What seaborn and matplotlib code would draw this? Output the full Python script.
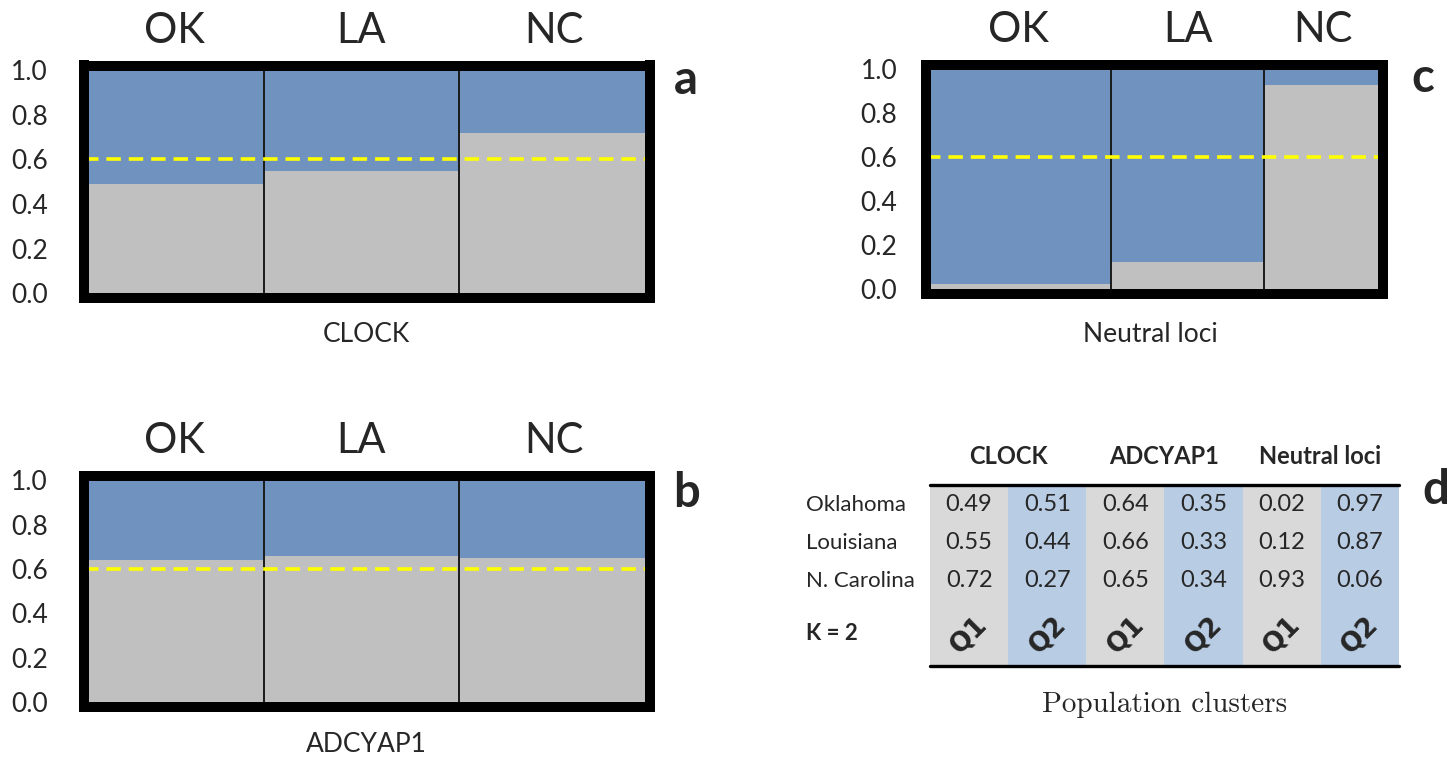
import matplotlib
matplotlib.use('Agg')
import matplotlib.pyplot as plt
from matplotlib.colors import ListedColormap
import numpy as np
import pandas as pd
import seaborn as sns

# data (membership coefficients, K = 2)
pops = ['OK', 'LA', 'NC']
states = ['Oklahoma', 'Louisiana', 'N. Carolina']
loci = ['CLOCK', 'ADCYAP1', 'Neutral loci']
clock_q1 = [0.49, 0.55, 0.72]
clock_q2 = [0.51, 0.44, 0.27]
adcyap1_q1 = [0.64, 0.66, 0.65]
adcyap1_q2 = [0.35, 0.33, 0.34]
neutral_q1 = [0.02, 0.12, 0.93]
neutral_q2 = [0.97, 0.87, 0.06]
cluster_labels = ['Q1', 'Q2']
threshold = 0.6
k = 2

# layout / style
W, H = 1455, 761
BAR_BLUE = '#7092BE'
BAR_GREY = '#C0C0C0'
TAB_GREY = '#D9D9D9'
TAB_BLUE = '#B8CCE4'
YELLOW = '#FFFF00'
ab_xlim = (-0.423, 2.48)                 # first bar partly hidden by the frame
neutral_edges = [0.0, 0.405, 0.74, 1.0]  # panel c bar widths (axes fraction)

sns.set_style('white')
plt.rcParams['font.family'] = ['Lato', 'DejaVu Sans']


def px(x, y):
    return x / W, 1 - y / H


def ax_at(fig, x0, y0, x1, y1):
    return fig.add_axes([x0 / W, 1 - y1 / H, (x1 - x0) / W, (y1 - y0) / H])


def frame(ax, pad):
    ax.set_ylim(-0.022, 1.022)
    ax.set_yticks([0, 0.2, 0.4, 0.6, 0.8, 1.0])
    ax.set_yticklabels([f'{v:.1f}' for v in [0, 0.2, 0.4, 0.6, 0.8, 1.0]])
    ax.tick_params(axis='y', length=0, pad=pad, labelsize=19)
    ax.set_xticks([])
    ax.set_xlabel('')
    ax.set_ylabel('')
    ax.axhline(threshold, color=YELLOW, lw=2.6, ls=(0, (4, 2.2)), zorder=5)
    for s in ax.spines.values():
        s.set_visible(True)
        s.set_color('black')
        s.set_linewidth(7.2)
        s.set_zorder(10)


def stacked_panel(ax, q1):
    df = pd.DataFrame({'pop': pops, 'q1': q1, 'total': 1.0})
    sns.barplot(data=df, x='pop', y='total', color=BAR_BLUE, width=1,
                saturation=1, errorbar=None, linewidth=0, ax=ax)
    sns.barplot(data=df, x='pop', y='q1', color=BAR_GREY, width=1,
                saturation=1, errorbar=None, linewidth=0, ax=ax)
    ax.set_xlim(*ab_xlim)
    for xv in [0.5, 1.5]:
        ax.axvline(xv, color='#1a1a1a', lw=1.4, zorder=4)
    for i, p in enumerate(pops):
        lo, hi = max(i - 0.5, ab_xlim[0]), min(i + 0.5, ab_xlim[1])
        ax.text((lo + hi) / 2, 1.15, p, transform=ax.get_xaxis_transform(),
                ha='center', va='center', fontsize=30)
    frame(ax, 26)


fig = plt.figure(figsize=(W / 100, H / 100), dpi=100)

# panel a
ax_a = ax_at(fig, 84, 65.5, 650, 298)
stacked_panel(ax_a, clock_q1)
fig.text(*px(366, 335), loci[0], ha='center', va='center', fontsize=19)
fig.text(*px(686, 80), 'a', ha='center', va='center', fontsize=34, fontweight='bold')

# panel b
ax_b = ax_at(fig, 84, 475.5, 650, 707)
stacked_panel(ax_b, adcyap1_q1)
fig.text(*px(366, 745), loci[1], ha='center', va='center', fontsize=19)
fig.text(*px(686, 493), 'b', ha='center', va='center', fontsize=34, fontweight='bold')

# panel c (unequal widths)
ax_c = ax_at(fig, 926.5, 64.5, 1382.5, 293.5)
edges = list(neutral_edges)
centers = [(a + b) / 2 for a, b in zip(edges[:-1], edges[1:])]
df_c = pd.DataFrame({'pos': centers, 'total': 1.0, 'q1': neutral_q1})
sns.histplot(data=df_c, x='pos', weights='total', bins=edges, color=BAR_BLUE,
             alpha=1, linewidth=0, ax=ax_c)
sns.histplot(data=df_c, x='pos', weights='q1', bins=edges, color=BAR_GREY,
             alpha=1, linewidth=0, ax=ax_c)
ax_c.set_xlim(0, 1)
for xv in edges[1:-1]:
    ax_c.axvline(xv, color='#1a1a1a', lw=1.4, zorder=4)
for c, p in zip(centers, pops):
    ax_c.text(c, 1.15, p, transform=ax_c.get_xaxis_transform(),
              ha='center', va='center', fontsize=30)
frame(ax_c, 21)
fig.text(*px(1150, 335), loci[2], ha='center', va='center', fontsize=19)
fig.text(*px(1423, 78), 'c', ha='center', va='center', fontsize=34, fontweight='bold')

# panel d (table)
ax_d = ax_at(fig, 930, 485, 1399, 666)
shade = np.array([[0, 1, 0, 1, 0, 1]])
sns.heatmap(shade, cmap=ListedColormap([TAB_GREY, TAB_BLUE]), cbar=False,
            xticklabels=False, yticklabels=False, ax=ax_d)
ax_d.axhline(0, color='black', lw=2.4, clip_on=False)
ax_d.axhline(1, color='black', lw=2.4, clip_on=False)
row_y = [0.11, 0.32, 0.53]
table_cols = [clock_q1, clock_q2, adcyap1_q1, adcyap1_q2, neutral_q1, neutral_q2]
for j, col in enumerate(table_cols):
    for r, v in enumerate(col):
        ax_d.text(j + 0.5, row_y[r], f'{v:.2f}', ha='center', va='center', fontsize=17)
    ax_d.text(j + 0.5, 0.83, cluster_labels[j % 2], ha='center', va='center',
              fontsize=19, rotation=45, family='DejaVu Sans', fontweight='bold')
for i, name in enumerate(loci):
    fig.text(*px(1008 + 156 * i, 457), name, ha='center', va='center',
             fontsize=17, fontweight='bold')
for r, s in enumerate(states):
    fig.text(*px(806, 505 + 38 * r), s, ha='left', va='center', fontsize=16)
fig.text(*px(806, 633), f'K = {k}', ha='left', va='center', fontsize=16, fontweight='bold')
fig.text(*px(1165, 705), 'Population clusters', ha='center', va='center',
         fontsize=21, family='cmr10')
fig.text(*px(1436, 490), 'd', ha='center', va='center', fontsize=34, fontweight='bold')

fig.savefig('out.png', dpi=100)
